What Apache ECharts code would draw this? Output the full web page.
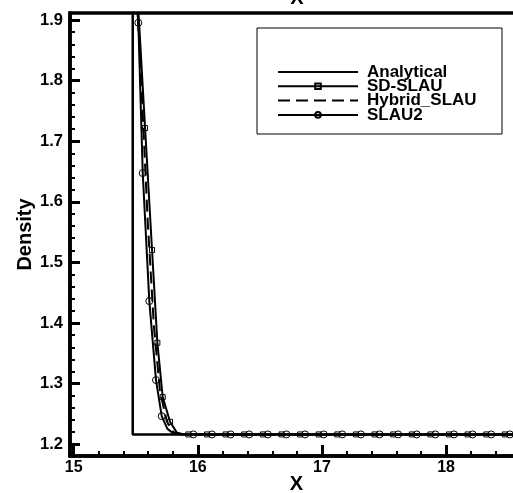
<!DOCTYPE html>
<html>
<head>
<meta charset="utf-8">
<script src="https://cdn.jsdelivr.net/npm/echarts@6/dist/echarts.min.js"></script>
<style>
html,body{margin:0;padding:0;background:#fff;}
#chart{width:513px;height:493px;}
</style>
</head>
<body>
<div id="chart"></div>
<script>
// ---------------- data ----------------
const seriesNames = ['Analytical', 'SD-SLAU', 'Hybrid_SLAU', 'SLAU2'];

const xMajorTicks = [15, 16, 17, 18];
const xMinorTicks = [15.2, 15.4, 15.6, 15.8, 16.2, 16.4, 16.6, 16.8, 17.2, 17.4, 17.6, 17.8, 18.2, 18.4, 18.6];
const yMajorTicks = [1.2, 1.3, 1.4, 1.5, 1.6, 1.7, 1.8, 1.9];
const yMinorTicks = [1.22, 1.24, 1.26, 1.28, 1.32, 1.34, 1.36, 1.38, 1.42, 1.44, 1.46, 1.48,
  1.52, 1.54, 1.56, 1.58, 1.62, 1.64, 1.66, 1.68, 1.72, 1.74, 1.76, 1.78, 1.82, 1.84, 1.86, 1.88, 1.9];

const analyticalX = [15.4754, 15.4754, 18.7];
const analyticalY = [2.0, 1.2163, 1.2163];

const sdSlauX = [15.517, 15.575, 15.631, 15.674, 15.717, 15.776, 15.83, 15.88,
  15.924, 16.074, 16.224, 16.374, 16.524, 16.674, 16.824, 16.974, 17.124,
  17.274, 17.424, 17.574, 17.724, 17.874, 18.024, 18.174, 18.324, 18.474, 18.7];
const sdSlauY = [1.93, 1.7218, 1.5205, 1.3675, 1.2779, 1.2371, 1.2195, 1.2165,
  1.2163, 1.2163, 1.2163, 1.2163, 1.2163, 1.2163, 1.2163, 1.2163, 1.2163,
  1.2163, 1.2163, 1.2163, 1.2163, 1.2163, 1.2163, 1.2163, 1.2163, 1.2163, 1.2163];
const sdSlauMarked = [0, 1, 1, 1, 1, 1, 0, 0,
  1, 1, 1, 1, 1, 1, 1, 1, 1, 1, 1, 1, 1, 1, 1, 1, 1, 1, 0];

const hybridX = [15.511, 15.548, 15.597, 15.646, 15.695, 15.75, 15.80, 15.85, 15.89, 18.7];
const hybridY = [1.93, 1.78, 1.565, 1.395, 1.288, 1.238, 1.2205, 1.2168, 1.2163, 1.2163];

const slau2X = [15.505, 15.5205, 15.556, 15.609, 15.663, 15.709, 15.755, 15.80, 15.85,
  15.964, 16.114, 16.264, 16.414, 16.564, 16.714, 16.864, 17.014, 17.164,
  17.314, 17.464, 17.614, 17.764, 17.914, 18.064, 18.214, 18.364, 18.514, 18.7];
const slau2Y = [1.93, 1.8955, 1.6475, 1.4363, 1.306, 1.2465, 1.2255, 1.2185, 1.2165,
  1.2163, 1.2163, 1.2163, 1.2163, 1.2163, 1.2163, 1.2163, 1.2163, 1.2163,
  1.2163, 1.2163, 1.2163, 1.2163, 1.2163, 1.2163, 1.2163, 1.2163, 1.2163, 1.2163];
const slau2Marked = [0, 1, 1, 1, 1, 1, 0, 0, 0,
  1, 1, 1, 1, 1, 1, 1, 1, 1, 1, 1, 1, 1, 1, 1, 1, 1, 1, 0];

// ---------------- chart ----------------
const FONT = 'Liberation Sans, Arial, Helvetica, sans-serif';
const X_MIN = 14.97, X_MAX = 18.62, Y_MIN = 1.1807, Y_MAX = 1.9116;

function pts(xs, ys, marked) {
  return xs.map((x, i) => {
    const item = { value: [x, ys[i]] };
    if (marked && !marked[i]) item.symbol = 'none';
    return item;
  });
}

const chart = echarts.init(document.getElementById('chart'), null, { renderer: 'canvas' });

const hollow = { color: 'rgba(0,0,0,0)', borderColor: '#000', borderWidth: 1 };
const noSymbol = { color: 'rgba(0,0,0,0)', borderColor: 'rgba(0,0,0,0)', borderWidth: 0 };

chart.setOption({
  animation: false,
  backgroundColor: '#fff',
  grid: { left: 70, right: -10, top: 13, bottom: 37, outerBoundsMode: 'none', containLabel: false,
    show: true, borderColor: '#000', borderWidth: 3.5, backgroundColor: 'rgba(0,0,0,0)' },
  xAxis: [
    {
      type: 'value', min: X_MIN, max: X_MAX, position: 'bottom',
      name: 'X', nameLocation: 'middle', nameGap: 18, nameMoveOverlap: false,
      nameTextStyle: { fontFamily: FONT, fontWeight: 'bold', fontSize: 20, color: '#000' },
      axisLine: { show: true, lineStyle: { color: '#000', width: 3.5 } },
      axisTick: { show: true, inside: true, length: 11, customValues: xMajorTicks, lineStyle: { color: '#000', width: 3 } },
      axisLabel: { show: true, customValues: xMajorTicks, margin: 4, formatter: v => String(Math.round(v)),
        fontFamily: FONT, fontWeight: 'bold', fontSize: 16, color: '#000' },
      splitLine: { show: false }
    },
    {
      type: 'value', min: X_MIN, max: X_MAX, position: 'bottom', offset: 0,
      axisLine: { show: false },
      axisTick: { show: true, inside: true, length: 5, customValues: xMinorTicks, lineStyle: { color: '#000', width: 2 } },
      axisLabel: { show: false },
      splitLine: { show: false }
    }
  ],
  yAxis: [
    {
      type: 'value', min: Y_MIN, max: Y_MAX, position: 'left',
      name: 'Density', nameLocation: 'middle', nameGap: 35, nameMoveOverlap: false,
      nameTextStyle: { fontFamily: FONT, fontWeight: 'bold', fontSize: 20, color: '#000' },
      axisLine: { show: true, lineStyle: { color: '#000', width: 3.5 } },
      axisTick: { show: true, inside: true, length: 10, customValues: yMajorTicks, lineStyle: { color: '#000', width: 3 } },
      axisLabel: { show: true, customValues: yMajorTicks, margin: 7, formatter: v => v.toFixed(1),
        fontFamily: FONT, fontWeight: 'bold', fontSize: 16.5, color: '#000' },
      splitLine: { show: false }
    },
    {
      type: 'value', min: Y_MIN, max: Y_MAX, position: 'left', offset: 0,
      axisLine: { show: false },
      axisTick: { show: true, inside: true, length: 5, customValues: yMinorTicks, lineStyle: { color: '#000', width: 2 } },
      axisLabel: { show: false },
      splitLine: { show: false }
    }
  ],
  legend: {
    orient: 'vertical', left: 277, top: 63.5, padding: 0, itemWidth: 80, itemHeight: 7, itemGap: -2.7,
    data: [
      { name: seriesNames[0], itemStyle: noSymbol },
      { name: seriesNames[1] },
      { name: seriesNames[2], itemStyle: noSymbol },
      { name: seriesNames[3] }
    ],
    textStyle: { fontFamily: FONT, fontWeight: 'bold', fontSize: 17, color: '#000', padding: [0, 0, 0, 4] }
  },
  graphic: [
    { type: 'rect', shape: { x: 257, y: 28, width: 245, height: 106 }, style: { fill: 'none', stroke: '#000', lineWidth: 1 }, z: 1 },
    { type: 'text', style: { text: 'X', x: 297, y: 8, textAlign: 'center', textVerticalAlign: 'bottom', font: 'bold 20px ' + FONT, fill: '#000' } }
  ],
  series: [
    {
      name: seriesNames[0], type: 'line', xAxisIndex: 0, yAxisIndex: 0,
      data: pts(analyticalX, analyticalY), symbol: 'none',
      lineStyle: { color: '#000', width: 2.5 }, itemStyle: { color: '#000' }, z: 3
    },
    {
      name: seriesNames[1], type: 'line', xAxisIndex: 0, yAxisIndex: 0,
      data: pts(sdSlauX, sdSlauY, sdSlauMarked), symbol: 'rect', symbolSize: 5, showAllSymbol: true,
      lineStyle: { color: '#000', width: 2 }, itemStyle: hollow, z: 4
    },
    {
      name: seriesNames[2], type: 'line', xAxisIndex: 0, yAxisIndex: 0,
      data: pts(hybridX, hybridY), symbol: 'none',
      lineStyle: { color: '#000', width: 2, type: [12, 6] }, itemStyle: { color: '#000' }, z: 4
    },
    {
      name: seriesNames[3], type: 'line', xAxisIndex: 0, yAxisIndex: 0,
      data: pts(slau2X, slau2Y, slau2Marked), symbol: 'circle', symbolSize: 7, showAllSymbol: true,
      lineStyle: { color: '#000', width: 2 }, itemStyle: hollow, z: 4
    }
  ]
});
</script>
</body>
</html>
